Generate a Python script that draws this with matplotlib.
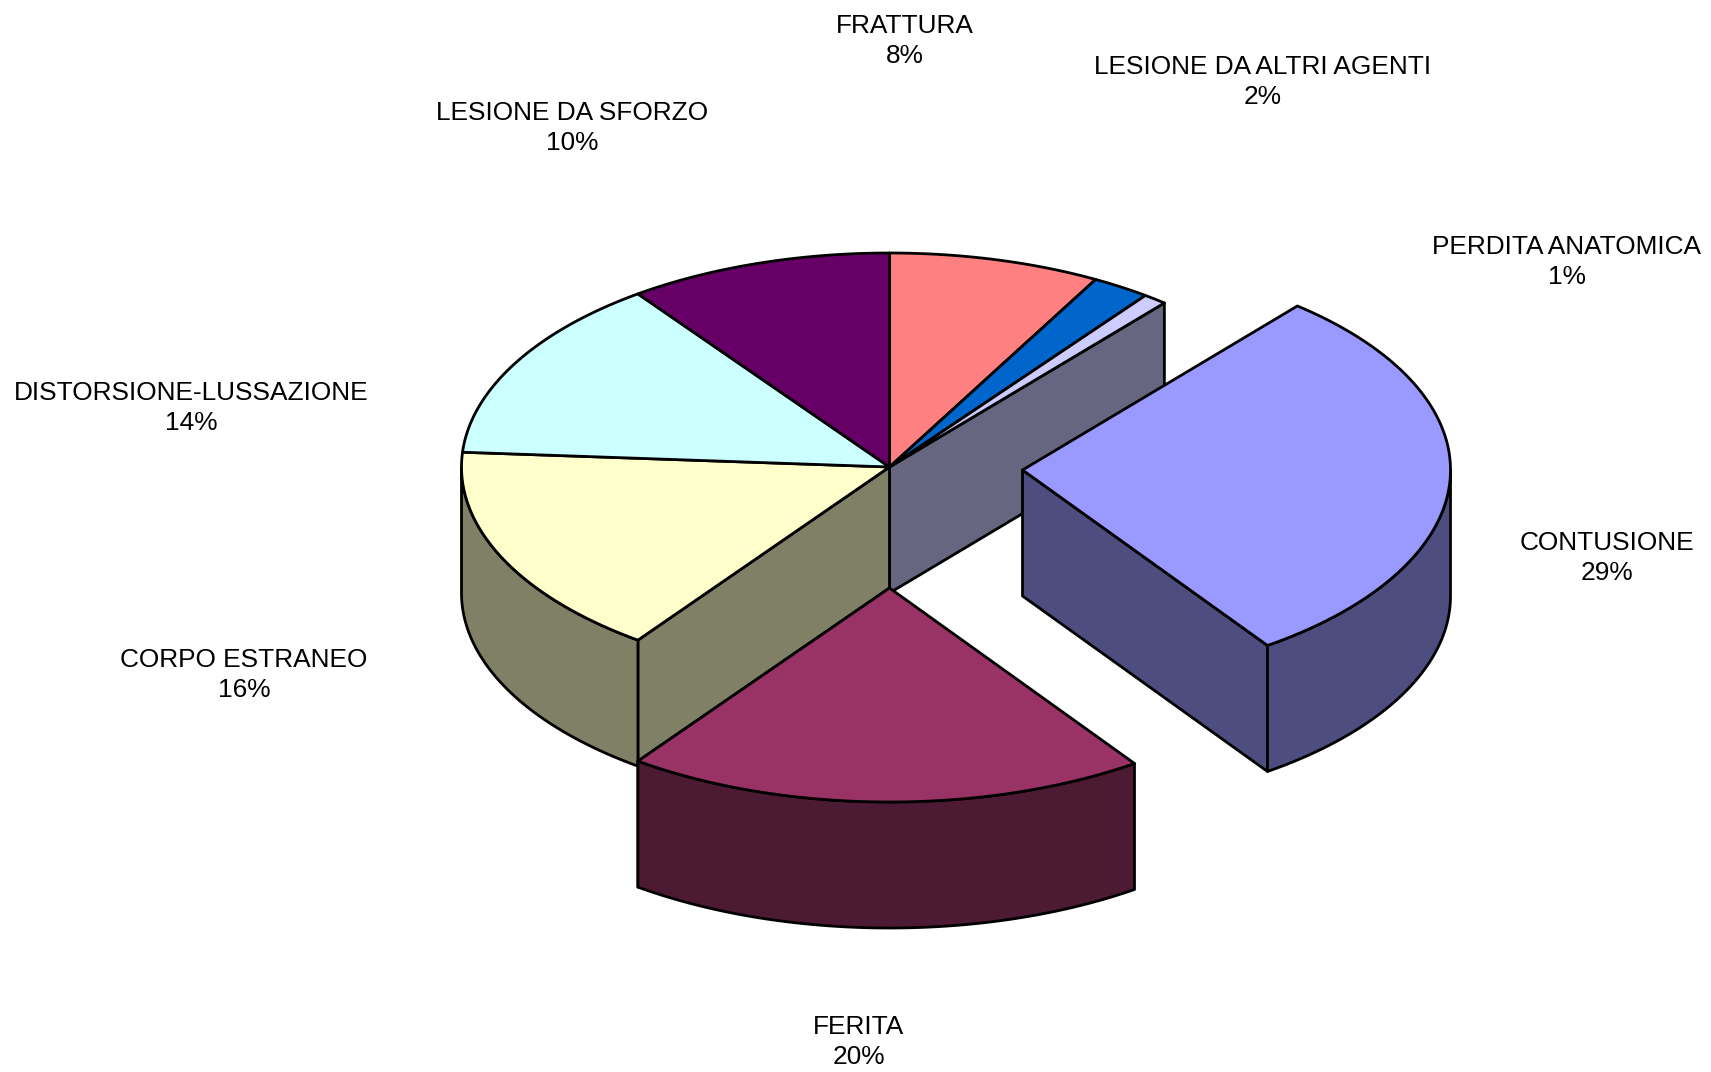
import numpy as np
import matplotlib
matplotlib.use('Agg')
import matplotlib.pyplot as plt
from matplotlib.patches import Polygon

plt.rcParams['font.family'] = ['Liberation Sans', 'DejaVu Sans']

# chart data
labels = ['FRATTURA', 'LESIONE DA ALTRI AGENTI', 'PERDITA ANATOMICA', 'CONTUSIONE',
          'FERITA', 'CORPO ESTRANEO', 'DISTORSIONE-LUSSAZIONE', 'LESIONE DA SFORZO']
values = [8.0, 2.2, 0.9, 29.2, 19.7, 16.1, 13.9, 10.0]
percents = ['8%', '2%', '1%', '29%', '20%', '16%', '14%', '10%']
colors = ['#FF8080', '#0066CC', '#CCCCFF', '#9999FF',
          '#993366', '#FFFFCC', '#CCFFFF', '#660066']

# layout, all in pixels of the output image
CX, CY = 889.5, 467.0
RX, RY = 428.0, 214.0
DEPTH = 126.0
LW = 2.0
label_pos = [(905, 41), (1263, 82), (1567, 262), (1607, 558),
             (859, 1042), (244, 675), (191, 408), (572, 128)]
shift = {3: (133, 3), 4: (0, 121)}  # exploded slices


def rim(a0, a1, cx, cy):
    # points on the ellipse, angles in degrees clockwise from the top
    t = np.radians(np.linspace(a0, a1, max(2, int(abs(a1 - a0) * 2) + 2)))
    return np.column_stack([cx + RX * np.sin(t), cy - RY * np.cos(t)])


def poly(ax, pts, color, z):
    ax.add_patch(Polygon(pts, closed=True, facecolor=color, edgecolor='black',
                         linewidth=LW, joinstyle='round', zorder=z))


def darker(color):
    rgb = np.array(matplotlib.colors.to_rgb(color))
    return rgb * 0.5


def draw_slice(ax, a0, a1, color, dx, dy, z):
    cx, cy = CX + dx, CY + dy
    top = rim(a0, a1, cx, cy)
    side = darker(color)
    # radial walls that face the viewer
    if 90 < a1 <= 270 and (dx or dy):
        p = top[-1]
        poly(ax, [(cx, cy), p, p + (0, DEPTH), (cx, cy + DEPTH)], side, z)
    # outer wall, lower half only
    lo, hi = max(a0, 90), min(a1, 270)
    if lo < hi:
        arc = rim(lo, hi, cx, cy)
        poly(ax, np.vstack([arc, (arc + (0, DEPTH))[::-1]]), side, z + 0.1)
    poly(ax, np.vstack([[(cx, cy)], top]), color, z + 0.2)


fig = plt.figure(figsize=(17.11, 10.72), dpi=100)
ax = fig.add_axes([0, 0, 1, 1])
ax.set_xlim(0, 1711)
ax.set_ylim(1072, 0)
ax.axis('off')

edges = np.concatenate([[0], np.cumsum(values)]) / sum(values) * 360

# walls of the gaps left in the main body by the exploded slices
gap_a = rim(edges[3], edges[3], CX, CY)[0]
poly(ax, [(CX, CY), gap_a, gap_a + (0, DEPTH), (CX, CY + DEPTH)], darker(colors[2]), 1)
gap_b = rim(edges[5], edges[5], CX, CY)[0]
poly(ax, [(CX, CY), gap_b, gap_b + (0, DEPTH), (CX, CY + DEPTH)], darker(colors[5]), 1)

for i, color in enumerate(colors):
    if i in shift:
        continue
    draw_slice(ax, edges[i], edges[i + 1], color, 0, 0, 2 + i * 0.01)
for i in shift:
    draw_slice(ax, edges[i], edges[i + 1], colors[i], shift[i][0], shift[i][1], 3 + i)

for name, pct, (x, y) in zip(labels, percents, label_pos):
    ax.text(x, y, name + '\n' + pct, ha='center', va='center', fontsize=18.9,
            linespacing=1.36, color='black')

fig.savefig('out.png', dpi=100, facecolor='white')
